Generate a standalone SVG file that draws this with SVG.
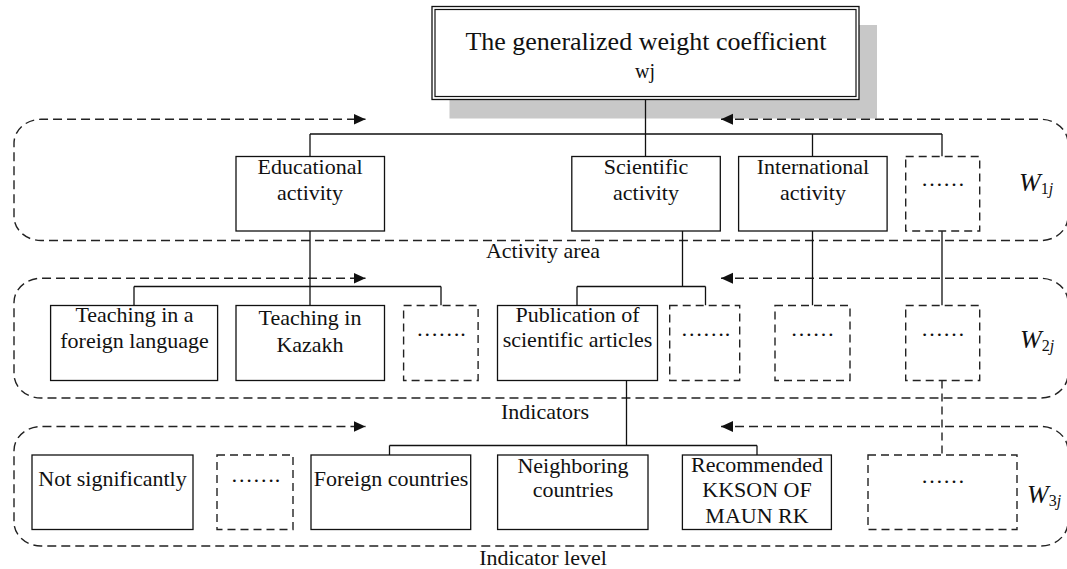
<svg xmlns="http://www.w3.org/2000/svg" width="1067" height="569" viewBox="0 0 1067 569">
  <defs>
    <style>
      text { font-family: "Liberation Serif", "Times New Roman", serif; fill: #111; }
      .lbl { font-size: 22px; text-anchor: middle; }
      .title { font-size: 26px; text-anchor: middle; }
      .w { font-size: 26px; font-style: italic; }
      .sub { font-size: 16px; }
      .num { font-style: normal; }
      .box { fill: #fff; stroke: #111; stroke-width: 1.3; }
      .dbox { fill: #fff; stroke: #222; stroke-width: 1.4; stroke-dasharray: 8 5; }
      .region { fill: none; stroke: #222; stroke-width: 1.4; stroke-dasharray: 9 5; }
      .link { fill: none; stroke: #111; stroke-width: 1.3; }
      .dlink { fill: none; stroke: #222; stroke-width: 1.4; stroke-dasharray: 8 5; }
    </style>
    <marker id="arrow" viewBox="0 0 12 12" refX="12" refY="6" markerWidth="12" markerHeight="12" markerUnits="userSpaceOnUse" orient="auto-start-reverse">
      <path d="M0,0.5 L12,6 L0,11.5 Z" fill="#111" stroke="none"/>
    </marker>
  </defs>

  <!-- Root node with drop shadow and double frame -->
  <g id="root">
    <rect x="449.5" y="25" width="427.5" height="93.5" fill="#c8c8c8"/>
    <rect x="432" y="6.5" width="427" height="93" class="box"/>
    <rect x="435" y="9.5" width="421" height="87" fill="none" stroke="#111" stroke-width="1.2"/>
    <text class="title" x="646" y="50">The generalized weight coefficient</text>
    <text class="lbl" x="645" y="78" style="font-size:20px">wj</text>
  </g>

  <!-- Level bands: open rounded outlines ending in arrowheads -->
  <g id="bands">
    <path class="region" marker-start="url(#arrow)" marker-end="url(#arrow)"
          d="M721,119.3 H1041 A27,24 0 0 1 1068,143.3 V216.5 A27,24 0 0 1 1041,240.5 H41 A27,24 0 0 1 14,216.5 V143.3 A27,24 0 0 1 41,119.3 H365.5"/>
    <path class="region" marker-start="url(#arrow)" marker-end="url(#arrow)"
          d="M721,278.3 H1041 A27,24 0 0 1 1068,302.3 V374 A27,24 0 0 1 1041,398 H41 A27,24 0 0 1 14,374 V302.3 A27,24 0 0 1 41,278.3 H365.5"/>
    <path class="region" marker-start="url(#arrow)" marker-end="url(#arrow)"
          d="M721,426.5 H1041 A27,24 0 0 1 1068,450.5 V522 A27,24 0 0 1 1041,546 H41 A27,24 0 0 1 14,522 V450.5 A27,24 0 0 1 41,426.5 H365.5"/>
    <text class="lbl" x="543" y="258">Activity area</text>
    <text class="lbl" x="545" y="419">Indicators</text>
    <text class="lbl" x="543" y="565">Indicator level</text>
    <text class="w" x="1019" y="191">W<tspan class="sub num" dy="3">1</tspan><tspan class="sub">j</tspan></text>
    <text class="w" x="1020" y="348">W<tspan class="sub num" dy="3">2</tspan><tspan class="sub">j</tspan></text>
    <text class="w" x="1027" y="503">W<tspan class="sub num" dy="3">3</tspan><tspan class="sub">j</tspan></text>
  </g>

  <!-- Connectors -->
  <g id="connectors">
    <!-- root to activity areas -->
    <path class="link" d="M645.5,99.5 V156.5"/>
    <path class="link" d="M310,134 H942 M310,134 V156.5 M812.5,134 V156.5 M942,134 V156.5"/>
    <!-- activity areas to indicators -->
    <path class="link" d="M310,231 V305.5 M134,286.5 H441 M134,286.5 V305.5 M441,286.5 V305.5"/>
    <path class="link" d="M682.5,231 V286.5 M577,286.5 H705.5 M577,286.5 V305.5 M705.5,286.5 V305.5"/>
    <path class="link" d="M812.5,231 V305.5 M942,231 V305.5"/>
    <!-- indicators to indicator levels -->
    <path class="link" d="M626.5,380.5 V445.5 M389.5,445.5 H757 M389.5,445.5 V455 M757,445.5 V455"/>
    <path class="dlink" d="M942,380.5 V455"/>
  </g>

  <!-- Activity areas -->
  <g id="educational">
    <rect class="box" x="236" y="156.5" width="148.5" height="74.5"/>
    <text class="lbl" x="310" y="174">Educational</text>
    <text class="lbl" x="310" y="200">activity</text>
  </g>
  <g id="scientific">
    <rect class="box" x="571.8" y="156.5" width="148.5" height="74.5"/>
    <text class="lbl" x="646" y="174">Scientific</text>
    <text class="lbl" x="646" y="200">activity</text>
  </g>
  <g id="international">
    <rect class="box" x="738.6" y="156.5" width="148.5" height="74.5"/>
    <text class="lbl" x="813" y="174">International</text>
    <text class="lbl" x="813" y="200">activity</text>
  </g>
  <g id="area-more">
    <rect class="dbox" x="905.7" y="156.5" width="74" height="74.5"/>
    <text class="lbl" x="943" y="186">……</text>
  </g>

  <!-- Indicators -->
  <g id="teach-foreign">
    <rect class="box" x="50.6" y="305.5" width="167" height="75"/>
    <text class="lbl" x="134.5" y="322">Teaching in a</text>
    <text class="lbl" x="134.5" y="347.5">foreign language</text>
  </g>
  <g id="teach-kazakh">
    <rect class="box" x="236" y="305.5" width="148.5" height="75"/>
    <text class="lbl" x="310" y="325">Teaching in</text>
    <text class="lbl" x="310" y="351.5">Kazakh</text>
  </g>
  <g id="edu-more">
    <rect class="dbox" x="403.6" y="305.5" width="74.5" height="75"/>
    <text class="lbl" x="441" y="336">…….</text>
  </g>
  <g id="publication">
    <rect class="box" x="497.5" y="305.5" width="160" height="75"/>
    <text class="lbl" x="577.5" y="321.5">Publication of</text>
    <text class="lbl" x="577.5" y="347">scientific articles</text>
  </g>
  <g id="sci-more">
    <rect class="dbox" x="669.7" y="305.5" width="70" height="75"/>
    <text class="lbl" x="705.5" y="336">…….</text>
  </g>
  <g id="intl-more">
    <rect class="dbox" x="775" y="305.5" width="75" height="75"/>
    <text class="lbl" x="812.5" y="336">……</text>
  </g>
  <g id="ind-more">
    <rect class="dbox" x="905.7" y="305.5" width="74" height="75"/>
    <text class="lbl" x="943" y="336">……</text>
  </g>

  <!-- Indicator levels -->
  <g id="not-significantly">
    <rect class="box" x="32" y="455" width="161" height="74.5"/>
    <text class="lbl" x="112.5" y="486">Not significantly</text>
  </g>
  <g id="level-more">
    <rect class="dbox" x="217" y="455" width="76" height="74.5"/>
    <text class="lbl" x="255.5" y="482">…….</text>
  </g>
  <g id="foreign-countries">
    <rect class="box" x="311" y="455" width="159.7" height="74.5"/>
    <text class="lbl" x="391" y="486">Foreign countries</text>
  </g>
  <g id="neighboring">
    <rect class="box" x="497.6" y="455" width="150.4" height="74.5"/>
    <text class="lbl" x="573" y="472.5">Neighboring</text>
    <text class="lbl" x="573" y="497">countries</text>
  </g>
  <g id="recommended">
    <rect class="box" x="682.4" y="455" width="149" height="74.5"/>
    <text class="lbl" x="757" y="472">Recommended</text>
    <text class="lbl" x="757" y="497">KKSON OF</text>
    <text class="lbl" x="757" y="523">MAUN RK</text>
  </g>
  <g id="pub-more">
    <rect class="dbox" x="868" y="455" width="149" height="74.5"/>
    <text class="lbl" x="943" y="483">……</text>
  </g>
</svg>
